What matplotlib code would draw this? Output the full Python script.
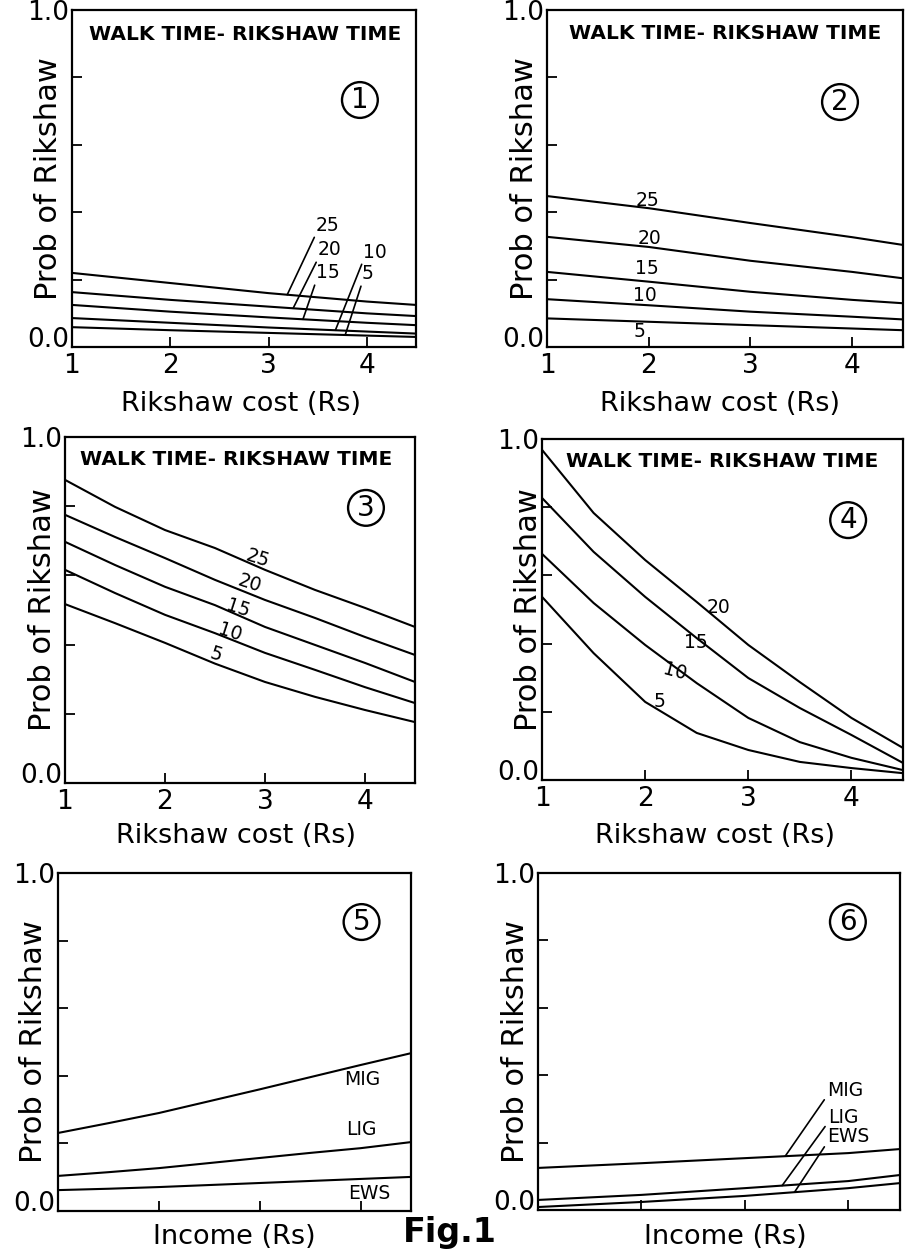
import numpy as np
import matplotlib.pyplot as plt

plt.rcParams['font.family'] = ['DejaVu Sans']

# x values (rikshaw cost in Rs, income positions)
cost = [1, 2, 3, 4, 4.5]
cost_fine = [1, 1.5, 2, 2.5, 3, 3.5, 4, 4.5]
income = [1, 2, 3, 4, 4.5]
income_fine = [1, 1.5, 2, 2.5, 3, 3.5, 4, 4.5]

# walk time - rikshaw time levels
levels = ['25', '20', '15', '10', '5']
levels4 = ['20', '15', '10', '5']
groups = ['MIG', 'LIG', 'EWS']

# panel 1 (on cost)
p1 = [[0.220, 0.190, 0.160, 0.135, 0.125],
      [0.163, 0.140, 0.120, 0.100, 0.092],
      [0.125, 0.105, 0.088, 0.072, 0.065],
      [0.086, 0.072, 0.058, 0.046, 0.040],
      [0.059, 0.050, 0.042, 0.034, 0.030]]

# panel 2 (on cost)
p2 = [[0.448, 0.412, 0.368, 0.326, 0.303],
      [0.327, 0.297, 0.256, 0.223, 0.204],
      [0.223, 0.194, 0.164, 0.140, 0.130],
      [0.142, 0.124, 0.105, 0.090, 0.082],
      [0.085, 0.075, 0.065, 0.055, 0.050]]

# panel 3 (on cost_fine)
p3 = [[0.876, 0.798, 0.731, 0.679, 0.616, 0.558, 0.506, 0.451],
      [0.775, 0.711, 0.650, 0.587, 0.529, 0.477, 0.422, 0.370],
      [0.697, 0.630, 0.567, 0.514, 0.451, 0.399, 0.347, 0.292],
      [0.616, 0.549, 0.486, 0.433, 0.376, 0.327, 0.277, 0.231],
      [0.517, 0.462, 0.405, 0.345, 0.292, 0.249, 0.211, 0.176]]

# panel 4 (on cost_fine)
p4 = [[0.968, 0.783, 0.645, 0.522, 0.396, 0.287, 0.182, 0.094],
      [0.827, 0.669, 0.537, 0.416, 0.299, 0.211, 0.132, 0.050],
      [0.663, 0.519, 0.396, 0.284, 0.182, 0.111, 0.065, 0.029],
      [0.537, 0.372, 0.229, 0.138, 0.088, 0.053, 0.035, 0.020]]

# panel 5 (on income_fine)
p5_mig = [0.231, 0.260, 0.290, 0.325, 0.360, 0.396, 0.432, 0.467]
p5_lig = [0.104, 0.115, 0.127, 0.142, 0.157, 0.172, 0.186, 0.204]
p5_ews = [0.062, 0.066, 0.071, 0.077, 0.083, 0.089, 0.095, 0.101]

# panel 6 (on income)
p6_mig = [0.125, 0.139, 0.154, 0.169, 0.181]
p6_lig = [0.030, 0.045, 0.065, 0.086, 0.104]
p6_ews = [0.009, 0.024, 0.042, 0.065, 0.080]

fig = plt.figure(figsize=(9.09, 12.52), dpi=100)

positions = [[0.0792, 0.7228, 0.3784, 0.2692],
             [0.6018, 0.7228, 0.3916, 0.2692],
             [0.0715, 0.3746, 0.3850, 0.2764],
             [0.5963, 0.3770, 0.3971, 0.2724],
             [0.0638, 0.0327, 0.3883, 0.2700],
             [0.5919, 0.0335, 0.3982, 0.2692]]
axes = [fig.add_axes(p) for p in positions]

lw = 1.5
tk = dict(ha='center', va='center', fontsize=13.5)


def style(ax, xlabel, xl_pos, yl_x, income_axis=False):
    ax.set_xlim(1, 4.5)
    ax.set_ylim(0, 1)
    ax.set_yticks(np.linspace(0, 1, 6))
    ax.set_yticklabels(['0.0', '', '', '', '', '1.0'])
    if income_axis:
        ax.set_xticks([2, 3, 4])
        ax.set_xticklabels([])
    else:
        ax.set_xticks([1, 2, 3, 4])
    ax.tick_params(direction='in', length=7, width=1.3, labelsize=19)
    ax.tick_params(axis='x', pad=4)
    ax.tick_params(axis='y', pad=2)
    # the 0.0 label sits on the axis line, not centred on it
    ax.get_yticklabels()[0].set_va('baseline')
    for s in ax.spines.values():
        s.set_linewidth(1.6)
    ax.set_ylabel('Prob of Rikshaw', fontsize=22, va='center')
    ax.yaxis.set_label_coords(yl_x, 0.5)
    ax.set_xlabel(xlabel, fontsize=19.5, va='center')
    ax.xaxis.set_label_coords(*xl_pos)


def circled(ax, num, x, y):
    ax.text(x, y, num, transform=ax.transAxes, ha='center', va='center',
            fontsize=20, bbox=dict(boxstyle='circle,pad=0.14', fc='white',
                                   ec='black', lw=1.7))


def header(ax, x, y):
    ax.text(x, y, 'WALK TIME- RIKSHAW TIME', transform=ax.transAxes,
            ha='center', va='center', fontsize=14.5, fontweight='bold')


# ---- panel 1
ax = axes[0]
for ys in p1:
    ax.plot(cost, ys, color='black', lw=lw)
lead1 = [(3.60, 0.362, 3.19), (3.62, 0.288, 3.25), (3.60, 0.220, 3.35),
         (4.08, 0.282, 3.68), (4.01, 0.217, 3.78)]
for lab, ys, (tx, ty, cx) in zip(levels, p1, lead1):
    ax.annotate(lab, xy=(cx, np.interp(cx, cost, ys)), xytext=(tx, ty),
                arrowprops=dict(arrowstyle='-', lw=1.2, relpos=(0, 0),
                                shrinkA=0, shrinkB=0), **tk)
header(ax, 0.503, 0.926)
circled(ax, '1', 0.837, 0.733)
style(ax, 'Rikshaw cost (Rs)', (0.49, -0.17), -0.068)

# ---- panel 2
ax = axes[1]
for ys in p2:
    ax.plot(cost, ys, color='black', lw=lw)
lab2 = [(1.99, 0.436), (2.01, 0.323), (1.98, 0.234), (1.96, 0.154), (1.91, 0.045)]
for lab, (tx, ty) in zip(levels, lab2):
    ax.text(tx, ty, lab, **tk)
header(ax, 0.50, 0.93)
circled(ax, '2', 0.823, 0.727)
style(ax, 'Rikshaw cost (Rs)', (0.486, -0.17), -0.063)

# ---- panel 3
ax = axes[2]
for ys in p3:
    ax.plot(cost_fine, ys, color='black', lw=lw)
lab3 = [(2.93, 0.650), (2.85, 0.578), (2.73, 0.503), (2.65, 0.436), (2.51, 0.370)]
for lab, (tx, ty) in zip(levels, lab3):
    ax.text(tx, ty, lab, rotation=-18, **tk)
header(ax, 0.489, 0.934)
circled(ax, '3', 0.86, 0.795)
style(ax, 'Rikshaw cost (Rs)', (0.49, -0.153), -0.064)

# ---- panel 4
ax = axes[3]
for ys in p4:
    ax.plot(cost_fine, ys, color='black', lw=lw)
lab4 = [(2.71, 0.507, 0), (2.49, 0.402, 0), (2.29, 0.317, -15), (2.14, 0.229, 0)]
for lab, (tx, ty, rot) in zip(levels4, lab4):
    ax.text(tx, ty, lab, rotation=rot, **tk)
header(ax, 0.498, 0.933)
circled(ax, '4', 0.848, 0.762)
style(ax, 'Rikshaw cost (Rs)', (0.48, -0.164), -0.037)

# ---- panel 5
ax = axes[4]
for ys in (p5_mig, p5_lig, p5_ews):
    ax.plot(income_fine, ys, color='black', lw=lw)
lab5 = [(4.02, 0.388), (4.01, 0.240), (4.09, 0.053)]
for lab, (tx, ty) in zip(groups, lab5):
    ax.text(tx, ty, lab, **tk)
circled(ax, '5', 0.86, 0.855)
style(ax, 'Income (Rs)', (0.50, -0.077), -0.069, income_axis=True)

# ---- panel 6
ax = axes[5]
for ys in (p6_mig, p6_lig, p6_ews):
    ax.plot(income, ys, color='black', lw=lw)
lead6 = [(3.97, 0.356, 3.39), (3.95, 0.276, 3.36), (4.00, 0.217, 3.48)]
for lab, ys, (tx, ty, cx) in zip(groups, (p6_mig, p6_lig, p6_ews), lead6):
    ax.annotate(lab, xy=(cx, np.interp(cx, income, ys)), xytext=(tx, ty),
                arrowprops=dict(arrowstyle='-', lw=1.2, relpos=(0, 0.2),
                                shrinkA=0, shrinkB=0), **tk)
circled(ax, '6', 0.856, 0.855)
style(ax, 'Income (Rs)', (0.517, -0.08), -0.062, income_axis=True)

fig.text(0.495, 0.0152, 'Fig.1', ha='center', va='center', fontsize=24,
         fontweight='bold')

fig.savefig('out.png', dpi=100)
